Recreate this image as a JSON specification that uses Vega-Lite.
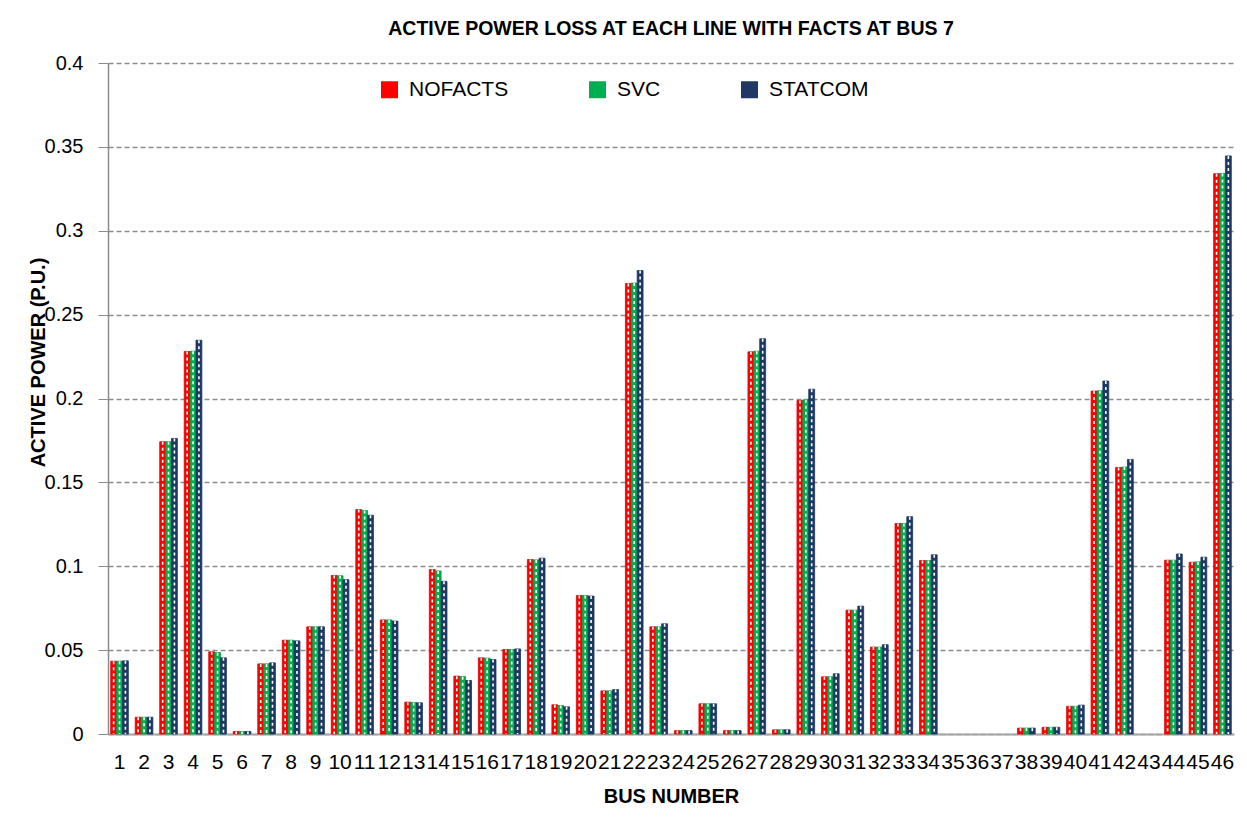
{
  "$schema": "https://vega.github.io/schema/vega-lite/v6.json",
  "width": 1126,
  "height": 671,
  "autosize": {"type": "pad"},
  "padding": {"left": 28, "top": 19, "right": 5, "bottom": 5},
  "background": "white",
  "title": {"text": "ACTIVE POWER LOSS AT EACH LINE WITH FACTS AT BUS 7", "font": "Liberation Sans", "fontSize": 19.5, "fontWeight": "bold", "color": "black", "anchor": "middle", "offset": 13.5},
  "config": {"view": {"stroke": null}},
  "data": {"values": [
    {"bus": 1, "NOFACTS": 0.0434, "SVC": 0.0434, "STATCOM": 0.0436},
    {"bus": 2, "NOFACTS": 0.010, "SVC": 0.010, "STATCOM": 0.010},
    {"bus": 3, "NOFACTS": 0.1742, "SVC": 0.1742, "STATCOM": 0.1762},
    {"bus": 4, "NOFACTS": 0.228, "SVC": 0.2282, "STATCOM": 0.2347},
    {"bus": 5, "NOFACTS": 0.049, "SVC": 0.0485, "STATCOM": 0.0454},
    {"bus": 6, "NOFACTS": 0.0015, "SVC": 0.0015, "STATCOM": 0.0015},
    {"bus": 7, "NOFACTS": 0.0418, "SVC": 0.0418, "STATCOM": 0.0424},
    {"bus": 8, "NOFACTS": 0.0559, "SVC": 0.0559, "STATCOM": 0.0555},
    {"bus": 9, "NOFACTS": 0.0639, "SVC": 0.0639, "STATCOM": 0.0639},
    {"bus": 10, "NOFACTS": 0.0945, "SVC": 0.0943, "STATCOM": 0.092},
    {"bus": 11, "NOFACTS": 0.1338, "SVC": 0.1332, "STATCOM": 0.1304},
    {"bus": 12, "NOFACTS": 0.068, "SVC": 0.068, "STATCOM": 0.0673},
    {"bus": 13, "NOFACTS": 0.019, "SVC": 0.0188, "STATCOM": 0.0186},
    {"bus": 14, "NOFACTS": 0.098, "SVC": 0.0972, "STATCOM": 0.091},
    {"bus": 15, "NOFACTS": 0.0345, "SVC": 0.0342, "STATCOM": 0.0319},
    {"bus": 16, "NOFACTS": 0.0454, "SVC": 0.0452, "STATCOM": 0.0444},
    {"bus": 17, "NOFACTS": 0.0504, "SVC": 0.0504, "STATCOM": 0.0507},
    {"bus": 18, "NOFACTS": 0.104, "SVC": 0.1038, "STATCOM": 0.1048},
    {"bus": 19, "NOFACTS": 0.0174, "SVC": 0.017, "STATCOM": 0.0162},
    {"bus": 20, "NOFACTS": 0.0826, "SVC": 0.0826, "STATCOM": 0.0822},
    {"bus": 21, "NOFACTS": 0.0257, "SVC": 0.0257, "STATCOM": 0.0265},
    {"bus": 22, "NOFACTS": 0.2686, "SVC": 0.2688, "STATCOM": 0.2763},
    {"bus": 23, "NOFACTS": 0.0639, "SVC": 0.0639, "STATCOM": 0.0657},
    {"bus": 24, "NOFACTS": 0.002, "SVC": 0.002, "STATCOM": 0.002},
    {"bus": 25, "NOFACTS": 0.018, "SVC": 0.018, "STATCOM": 0.018},
    {"bus": 26, "NOFACTS": 0.002, "SVC": 0.002, "STATCOM": 0.002},
    {"bus": 27, "NOFACTS": 0.2278, "SVC": 0.2282, "STATCOM": 0.2356},
    {"bus": 28, "NOFACTS": 0.0025, "SVC": 0.0025, "STATCOM": 0.0025},
    {"bus": 29, "NOFACTS": 0.1988, "SVC": 0.1992, "STATCOM": 0.2055},
    {"bus": 30, "NOFACTS": 0.0341, "SVC": 0.0341, "STATCOM": 0.0359},
    {"bus": 31, "NOFACTS": 0.0738, "SVC": 0.0738, "STATCOM": 0.0762},
    {"bus": 32, "NOFACTS": 0.0518, "SVC": 0.0518, "STATCOM": 0.0532},
    {"bus": 33, "NOFACTS": 0.1255, "SVC": 0.1255, "STATCOM": 0.1295},
    {"bus": 34, "NOFACTS": 0.1034, "SVC": 0.1034, "STATCOM": 0.1068},
    {"bus": 35, "NOFACTS": 0, "SVC": 0, "STATCOM": 0},
    {"bus": 36, "NOFACTS": 0, "SVC": 0, "STATCOM": 0},
    {"bus": 37, "NOFACTS": 0, "SVC": 0, "STATCOM": 0},
    {"bus": 38, "NOFACTS": 0.0035, "SVC": 0.0035, "STATCOM": 0.0035},
    {"bus": 39, "NOFACTS": 0.004, "SVC": 0.004, "STATCOM": 0.004},
    {"bus": 40, "NOFACTS": 0.0165, "SVC": 0.0165, "STATCOM": 0.0172},
    {"bus": 41, "NOFACTS": 0.2044, "SVC": 0.2046, "STATCOM": 0.2104},
    {"bus": 42, "NOFACTS": 0.1589, "SVC": 0.1591, "STATCOM": 0.1637},
    {"bus": 43, "NOFACTS": 0, "SVC": 0, "STATCOM": 0},
    {"bus": 44, "NOFACTS": 0.1036, "SVC": 0.1036, "STATCOM": 0.1073},
    {"bus": 45, "NOFACTS": 0.1024, "SVC": 0.1026, "STATCOM": 0.1054},
    {"bus": 46, "NOFACTS": 0.334, "SVC": 0.3342, "STATCOM": 0.3446}
  ]},
  "transform": [{"fold": ["NOFACTS", "SVC", "STATCOM"], "as": ["series", "value"]}],
  "encoding": {
    "x": {"field": "bus", "type": "ordinal", "title": "BUS NUMBER",
      "scale": {"paddingInner": 0.28, "paddingOuter": 0.11},
      "axis": {"labelAngle": 0, "labelFont": "Liberation Sans", "labelFontSize": 21, "labelColor": "black", "labelOverlap": false, "labelPadding": 17, "ticks": false, "tickSize": 0, "domainColor": "#a6a6a6", "domainWidth": 2, "titleFont": "Liberation Sans", "titleFontSize": 20, "titleFontWeight": "bold", "titleColor": "black", "titlePadding": 14}},
    "xOffset": {"field": "series", "type": "nominal", "sort": ["NOFACTS", "SVC", "STATCOM"], "scale": {"paddingInner": 0, "paddingOuter": 0}},
    "y": {"field": "value", "type": "quantitative", "title": "ACTIVE POWER (P.U.)",
      "scale": {"domain": [0, 0.4], "nice": false},
      "axis": {"values": [0, 0.05, 0.1, 0.15, 0.2, 0.25, 0.3, 0.35, 0.4], "format": "~g", "labelFont": "Liberation Sans", "labelFontSize": 20, "labelColor": "black", "labelPadding": 15, "tickSize": 10, "tickColor": "#8c8c8c", "domainColor": "#8c8c8c", "domainWidth": 1.5, "grid": true, "gridColor": "#8c8c8c", "gridDash": [5, 3], "gridWidth": 1.3, "titleFont": "Liberation Sans", "titleFontSize": 20, "titleFontWeight": "bold", "titleColor": "black", "titleX": -60, "titleY": 299}}
  },
  "layer": [
    {"mark": {"type": "bar", "strokeWidth": 0.8},
      "encoding": {
        "color": {"field": "series", "type": "nominal", "title": null,
          "scale": {"domain": ["NOFACTS", "SVC", "STATCOM"], "range": ["#FF0000", "#00B050", "#1F3864"]},
          "legend": {"orient": "none", "legendX": 271, "legendY": 16, "direction": "horizontal", "columns": 3, "columnPadding": 78, "symbolType": "square", "symbolSize": 289, "symbolStrokeWidth": 0, "labelFont": "Liberation Sans", "labelFontSize": 21, "labelColor": "black", "labelOffset": 9}},
        "stroke": {"field": "series", "type": "nominal", "scale": {"domain": ["NOFACTS", "SVC", "STATCOM"], "range": ["#E00000", "#009A40", "#17365D"]}, "legend": null},
        "strokeOpacity": {"condition": {"test": "datum.value > 0", "value": 1}, "value": 0}
      }},
    {"mark": {"type": "rule", "color": "white", "strokeWidth": 1.6, "strokeDash": [3, 3]},
      "encoding": {"y2": {"datum": 0}}}
  ]
}
